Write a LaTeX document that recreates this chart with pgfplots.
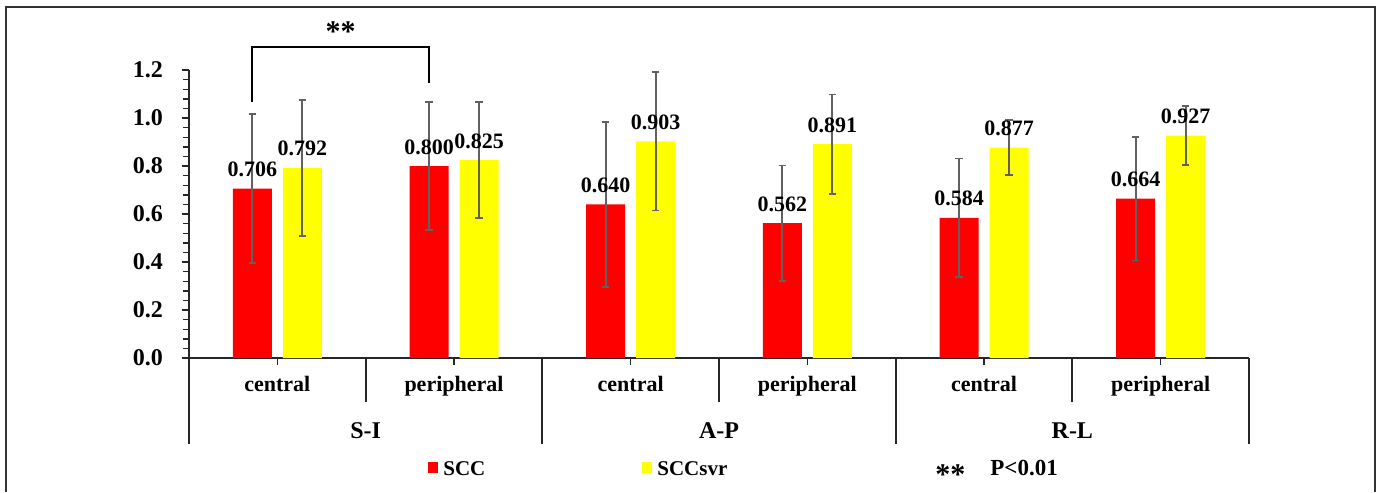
\documentclass[border=0pt]{standalone}
\usepackage{pgfplots}
\pgfplotsset{compat=1.18}
\usepackage{pgfplotstable}
\usepackage{fontspec}
\setmainfont{Liberation Serif}
\definecolor{cred}{RGB}{255,0,0}
\definecolor{cyel}{RGB}{255,255,0}

\pgfplotstableread{
x y err lab
0.5 0.706 0.310 0.706
1.5 0.800 0.265 0.800
2.5 0.640 0.343 0.640
3.5 0.562 0.240 0.562
4.5 0.584 0.247 0.584
5.5 0.664 0.258 0.664
}\scc
\pgfplotstableread{
x y err lab
0.5 0.792 0.283 0.792
1.5 0.825 0.240 0.825
2.5 0.903 0.288 0.903
3.5 0.891 0.207 0.891
4.5 0.877 0.116 0.877
5.5 0.927 0.124 0.927
}\sccsvr

\newcommand{\fa}{\bfseries\fontsize{10.5}{12}\selectfont}
\newcommand{\fv}{\bfseries\fontsize{11}{13}\selectfont}
\newcommand{\fb}{\bfseries\fontsize{12}{14}\selectfont}
\newcommand{\fp}{\bfseries\fontsize{11.5}{13}\selectfont}
\newcommand{\fs}{\bfseries\fontsize{15}{16}\selectfont}

\begin{document}
\begin{tikzpicture}
\begin{scope}[x=0.5pt,y=-0.5pt,shift={(-94.5pt,179pt)}]
\useasboundingbox (0,0) rectangle (1381,488);
\end{scope}
\begin{axis}[
  scale only axis, width=530pt, height=144pt,
  xmin=0, xmax=6, ymin=0, ymax=1.2,
  axis x line=bottom, axis y line=left,
  axis line style={-, line width=0.9pt, black!85},
  ybar, bar width=19.5pt,
  xtick={0.5,1.5,2.5,3.5,4.5,5.5}, xticklabels={},
  ytick={0,0.2,0.4,0.6,0.8,1.0,1.2},
  yticklabels={0.0,0.2,0.4,0.6,0.8,1.0,1.2},
  minor y tick num=4,
  tick align=outside, major tick length=3.5pt, minor tick length=3pt,
  every tick/.style={black!85, line width=0.7pt},
  yticklabel style={font=\fb, xshift=-6pt},
  clip=false,
  point meta=explicit symbolic,
  nodes near coords,
  nodes near coords style={font=\fv, anchor=base, yshift=6pt, inner sep=0pt},
]
\addplot[fill=cred, draw=none, bar shift=-12.5pt,
  error bars/.cd, y dir=both, y explicit, error mark=-,
  error bar style={line width=0.9pt, black!62},
  error mark options={line width=0.9pt, black!62, mark size=1.9pt, rotate=90}]
  table[x=x, y=y, y error=err, meta=lab] {\scc};
\addplot[fill=cyel, draw=none, bar shift=12.5pt,
  error bars/.cd, y dir=both, y explicit, error mark=-,
  error bar style={line width=0.9pt, black!62},
  error mark options={line width=0.9pt, black!62, mark size=1.9pt, rotate=90}]
  table[x=x, y=y, y error=err, meta=lab] {\sccsvr};

\pgfplotsinvokeforeach{1,3,5}{
  \draw[line width=0.9pt, black!85] (axis cs:#1,0) -- ++(0,-22pt);
}
\pgfplotsinvokeforeach{0,2,4,6}{
  \draw[line width=0.9pt, black!85] (axis cs:#1,0) -- ++(0,-43pt);
}
\pgfplotsinvokeforeach{0.5,2.5,4.5}{
  \node[anchor=base, inner sep=0pt, font=\fv] at ([yshift=-16.5pt]axis cs:#1,0) {central};
}
\pgfplotsinvokeforeach{1.5,3.5,5.5}{
  \node[anchor=base, inner sep=0pt, font=\fv] at ([yshift=-16.5pt]axis cs:#1,0) {peripheral};
}
\node[anchor=base, inner sep=0pt, font=\fb] at ([yshift=-40pt]axis cs:1,0) {S-I};
\node[anchor=base, inner sep=0pt, font=\fb] at ([yshift=-40pt]axis cs:3,0) {A-P};
\node[anchor=base, inner sep=0pt, font=\fb] at ([yshift=-40pt]axis cs:5,0) {R-L};
\draw[line width=1pt, black] ([xshift=-12.5pt]axis cs:0.5,1.067) -- ([xshift=-12.5pt]axis cs:0.5,1.296)
  -- ([xshift=-12.5pt]axis cs:1.5,1.296) -- ([xshift=-12.5pt]axis cs:1.5,1.146);
\node[inner sep=0pt, font=\fs] at ([xshift=-12.5pt]axis cs:1,1.358) {\raisebox{-0.3em}{**}};
\end{axis}
\begin{scope}[x=0.5pt,y=-0.5pt,shift={(-94.5pt,179pt)}]
\draw[line width=0.8pt, black!80] (6,492) -- (6,7) -- (1375,7) -- (1375,492);
\fill[cred] (428,462) rectangle (438,473);
\fill[cyel] (642,462) rectangle (652,473);
\node[anchor=base west, inner sep=0pt, font=\fa] at (443,475) {SCC};
\node[anchor=base west, inner sep=0pt, font=\fa] at (657,475) {SCCsvr};
\node[anchor=base west, inner sep=0pt, font=\fs] at (935,475) {\raisebox{-0.3em}{**}};
\node[anchor=base west, inner sep=0pt, font=\fp] at (990,475) {P<0.01};
\end{scope}
\end{tikzpicture}
\end{document}
